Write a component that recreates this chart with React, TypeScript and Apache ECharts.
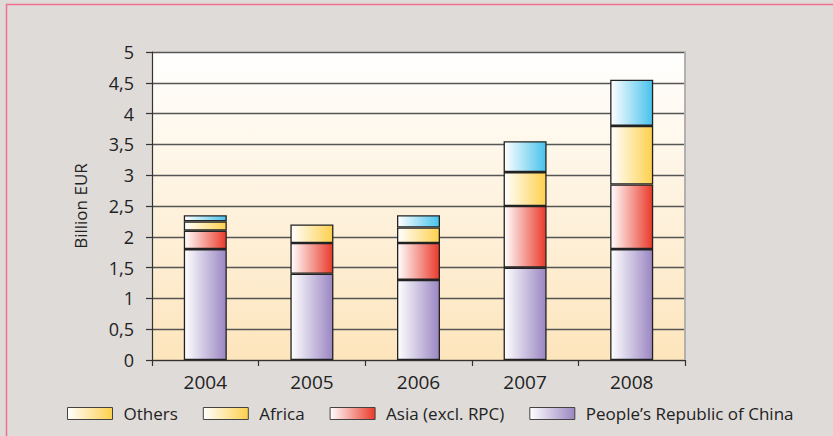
import React, { useEffect, useRef } from "react";
import * as echarts from "echarts";

const years = ["2004", "2005", "2006", "2007", "2008"];
const china = [1.8, 1.4, 1.3, 1.5, 1.8];
const asia = [0.3, 0.5, 0.6, 1.0, 1.05];
const africa = [0.15, 0.3, 0.25, 0.55, 0.95];
const others = [0.1, null, 0.2, 0.5, 0.75];
const yTicks = [0, 0.5, 1, 1.5, 2, 2.5, 3, 3.5, 4, 4.5, 5];

const grad = (c: string) =>
  new echarts.graphic.LinearGradient(0, 0, 1, 0, [
    { offset: 0, color: "#ffffff" },
    { offset: 1, color: c },
  ]);

const PURPLE = "#9a86c2";
const RED = "#ea3a2a";
const YELLOW = "#fdd04c";
const BLUE = "#48c2ec";
const FONT = "Open Sans";

export default function App() {
  const ref = useRef<HTMLDivElement>(null);
  useEffect(() => {
    document.body.style.margin = "0";
    const chart = echarts.init(ref.current!, null, { renderer: "svg" });
    const mk = (name: string, data: (number | null)[], c: string) => ({
      name,
      type: "bar",
      stack: "s",
      data,
      barWidth: 43,
      itemStyle: { color: grad(c), borderColor: "#222", borderWidth: 1.3 },
    });
    chart.setOption({
      animation: false,
      backgroundColor: "#dfdbd9",
      textStyle: { fontFamily: FONT },
      graphic: [
        {
          type: "rect",
          shape: { x: 6.5, y: 4.5, width: 900, height: 500 },
          style: { fill: "none", stroke: "#f0708c", lineWidth: 1.5 },
          silent: true,
        },
      ],
      grid: {
        left: 152,
        top: 52,
        width: 533,
        height: 308,
        show: true,
        borderWidth: 0,
        backgroundColor: new echarts.graphic.LinearGradient(0, 0, 0, 1, [
          { offset: 0, color: "#ffffff" },
          { offset: 1, color: "#fde5bc" },
        ]),
      },
      legend: {
        left: 62,
        top: 400,
        itemWidth: 45,
        itemHeight: 12,
        itemGap: 25,
        icon: "rect",
        textStyle: { fontFamily: FONT, fontSize: 17, color: "#222", padding: [0, 0, 0, 6] },
        itemStyle: { borderColor: "#444", borderWidth: 1 },
        data: [
          { name: "Others", itemStyle: { color: grad(YELLOW) } },
          "Africa",
          "Asia (excl. RPC)",
          "People’s Republic of China",
        ],
      },
      xAxis: {
        type: "category",
        data: years,
        axisLine: { lineStyle: { color: "#333", width: 1.2 } },
        axisTick: { show: true, length: 6, lineStyle: { color: "#333", width: 1.2 } },
        axisLabel: { fontSize: 19, color: "#222", margin: 12, fontFamily: FONT },
      },
      yAxis: [
        {
          type: "value",
          min: 0,
          max: 5,
          interval: 0.5,
          name: "Billion EUR",
          nameLocation: "middle",
          nameGap: 63,
          nameTextStyle: { fontSize: 17, color: "#222", fontFamily: FONT },
          axisLine: { show: true, lineStyle: { color: "#333", width: 1.2 } },
          axisTick: { show: true, length: 6, lineStyle: { color: "#333", width: 1.2 } },
          axisLabel: {
            fontSize: 18,
            color: "#222",
            margin: 18,
            fontFamily: FONT,
            formatter: (v: number) =>
              yTicks.includes(v) ? String(v).replace(".", ",") : "",
          },
          splitLine: { lineStyle: { color: "#555", width: 1.3 } },
        },
        {
          type: "value",
          min: 0,
          max: 5,
          interval: 0.5,
          position: "right",
          axisLine: { show: true, lineStyle: { color: "#b3b0ae", width: 2 } },
          axisTick: { show: false },
          axisLabel: { show: false },
          splitLine: { show: false },
        },
      ],
      series: [
        mk("People’s Republic of China", china, PURPLE),
        mk("Asia (excl. RPC)", asia, RED),
        mk("Africa", africa, YELLOW),
        mk("Others", others, BLUE),
      ],
    });
    return () => chart.dispose();
  }, []);
  return <div ref={ref} style={{ width: 833, height: 436 }} />;
}
